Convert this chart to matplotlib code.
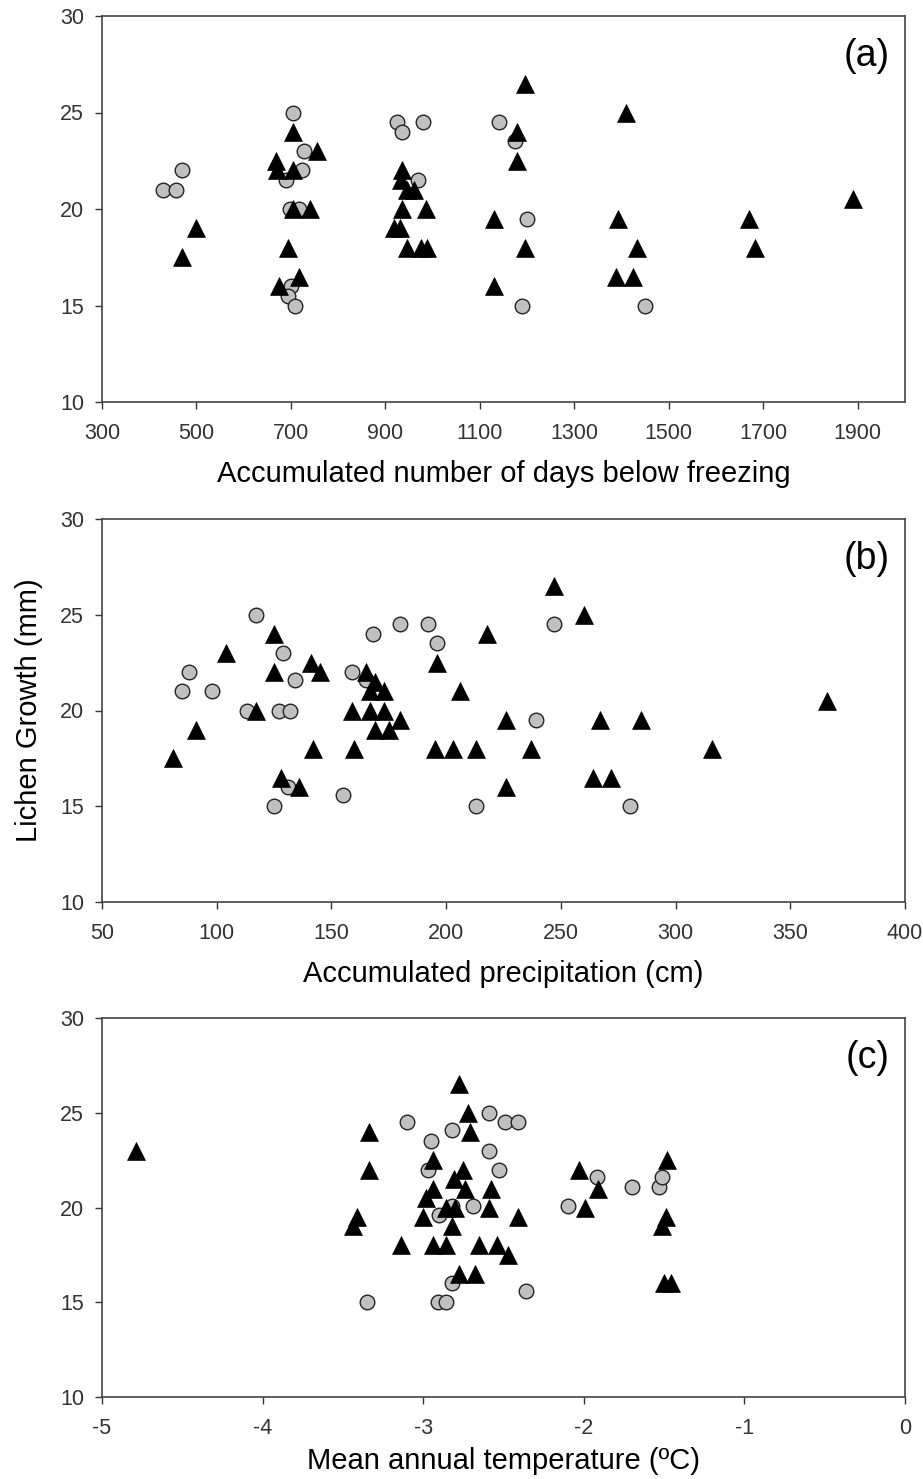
import matplotlib
matplotlib.use("Agg")
import matplotlib.pyplot as plt

plt.rcParams["font.family"] = ["Liberation Sans", "DejaVu Sans"]
plt.rcParams["axes.unicode_minus"] = False

# (a) accumulated days below freezing
freeze_circ_x = [430, 457, 470, 705, 728, 724, 690, 697, 718, 700, 693, 708,
                 925, 935, 980, 970, 1140, 1175, 1200, 1190, 1450]
freeze_circ_y = [21, 21, 22, 25, 23, 22, 21.5, 20, 20, 16, 15.5, 15,
                 24.5, 24, 24.5, 21.5, 24.5, 23.5, 19.5, 15, 15]
freeze_tri_x = [500, 470, 705, 755, 668, 670, 705, 705, 740, 693, 718, 675,
                935, 933, 945, 960, 935, 918, 930, 985, 945, 975, 988,
                1130, 1130, 1195, 1410, 1178, 1178, 1195, 1393, 1433, 1388, 1425,
                1670, 1682, 1890]
freeze_tri_y = [19, 17.5, 24, 23, 22.5, 22, 22, 20, 20, 18, 16.5, 16,
                22, 21.5, 21, 21, 20, 19, 19, 20, 18, 18, 18,
                19.5, 16, 26.5, 25, 24, 22.5, 18, 19.5, 18, 16.5, 16.5,
                19.5, 18, 20.5]

# (b) accumulated precipitation
precip_circ_x = [85, 88, 98, 113, 117, 125, 129, 127, 132, 134, 131, 155, 159,
                 168, 165, 180, 192, 196, 213, 247, 239, 280]
precip_circ_y = [21, 22, 21, 20, 25, 15, 23, 20, 20, 21.6, 16, 15.6, 22,
                 24, 21.6, 24.5, 24.5, 23.5, 15, 24.5, 19.5, 15]
precip_tri_x = [81, 91, 104, 117, 125, 125, 128, 136, 141, 142, 145, 159, 160,
                165, 167, 169, 173, 167, 173, 169, 175, 180, 196, 195, 203, 213,
                206, 247, 260, 218, 226, 237, 226, 267, 285, 264, 272, 316, 366]
precip_tri_y = [17.5, 19, 23, 20, 24, 22, 16.5, 16, 22.5, 18, 22, 20, 18,
                22, 21, 21.5, 21, 20, 20, 19, 19, 19.5, 22.5, 18, 18, 18,
                21, 26.5, 25, 24, 19.5, 18, 16, 19.5, 19.5, 16.5, 16.5, 18, 20.5]

# (c) mean annual temperature
temp_circ_x = [-3.35, -3.10, -2.95, -2.97, -2.90, -2.82, -2.82, -2.69, -2.82,
               -2.91, -2.86, -2.59, -2.49, -2.41, -2.59, -2.53, -2.36,
               -2.10, -1.92, -1.70, -1.53, -1.51]
temp_circ_y = [15, 24.5, 23.5, 22, 19.6, 24.1, 20.1, 20.1, 16,
               15, 15, 25, 24.5, 24.5, 23, 22, 15.6,
               20.1, 21.6, 21.1, 21.1, 21.6]
temp_tri_x = [-4.79, -3.34, -3.34, -3.41, -3.44, -3.14, -2.94, -2.94, -2.98,
              -3.00, -2.86, -2.81, -2.80, -2.82, -2.94, -2.86, -2.78, -2.72,
              -2.71, -2.75, -2.74, -2.78, -2.68, -2.58, -2.59, -2.41, -2.65,
              -2.54, -2.47, -2.03, -1.91, -1.99, -1.48, -1.49, -1.51, -1.50, -1.46]
temp_tri_y = [23, 24, 22, 19.5, 19, 18, 22.5, 21, 20.5,
              19.5, 20, 21.5, 20, 19, 18, 18, 26.5, 25,
              24, 22, 21, 16.5, 16.5, 21, 20, 19.5, 18,
              18, 17.5, 22, 21, 20, 22.5, 19.5, 19, 16, 16]

panels = [
    ("(a)", freeze_circ_x, freeze_circ_y, freeze_tri_x, freeze_tri_y,
     "Accumulated number of days below freezing", (300, 2000), range(300, 2000, 200), 12),
    ("(b)", precip_circ_x, precip_circ_y, precip_tri_x, precip_tri_y,
     "Accumulated precipitation (cm)", (50, 400), range(50, 401, 50), 12),
    ("(c)", temp_circ_x, temp_circ_y, temp_tri_x, temp_tri_y,
     "Mean annual temperature (ºC)", (-5, 0), range(-5, 1, 1), 6),
]

W, H = 923, 1479
fig = plt.figure(figsize=(W / 100, H / 100), dpi=100)
boxes = [(16, 402), (519, 902), (1018, 1397)]
axes = []
for (top, bot), (lab, cx, cy, tx, ty, xlabel, xlim, xticks, lpad) in zip(boxes, panels):
    ax = fig.add_axes([102 / W, 1 - bot / H, 803 / W, (bot - top) / H])
    ax.scatter(cx, cy, s=110, marker="o", facecolor="#c0c0c0",
               edgecolor="#222222", linewidth=1.0, zorder=3)
    ax.scatter(tx, ty, s=165, marker="^", facecolor="black",
               edgecolor="black", linewidth=0.5, zorder=4)
    ax.set_xlim(*xlim)
    ax.set_ylim(10, 30)
    ax.set_xticks(list(xticks))
    ax.set_yticks([10, 15, 20, 25, 30])
    ax.tick_params(direction="out", length=5, width=1, labelsize=15.5,
                   labelcolor="#333333", color="#333333")
    ax.tick_params(axis="x", pad=10)
    ax.tick_params(axis="y", pad=8)
    for sp in ax.spines.values():
        sp.set_color("#444444")
        sp.set_linewidth(1.2)
    ax.set_xlabel(xlabel, fontsize=21, labelpad=lpad)
    ax.text(1 - 15 / 803, 1 - 22 / (bot - top), lab, transform=ax.transAxes,
            ha="right", va="top", fontsize=27)
    axes.append(ax)

axes[1].set_ylabel("Lichen Growth (mm)", fontsize=21, labelpad=12)

fig.savefig("out.png", dpi=100)
